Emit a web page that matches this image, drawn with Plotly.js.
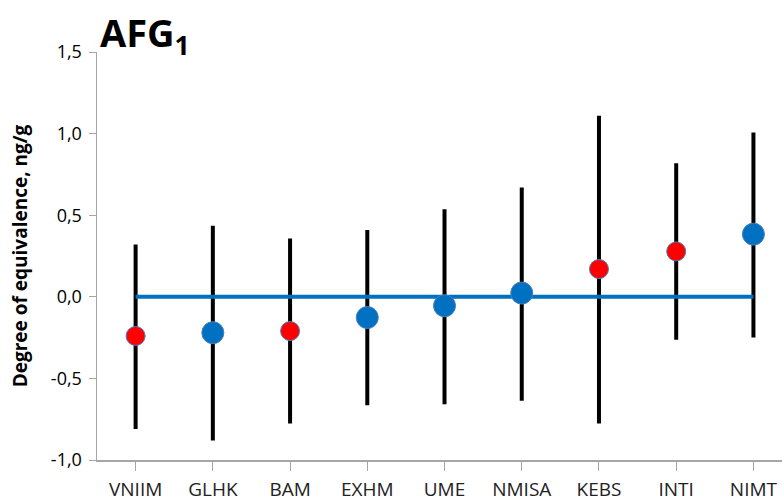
<!DOCTYPE html>
<html><head><meta charset="utf-8">
<script src="https://cdn.plot.ly/plotly-3.0.1.min.js"></script>
<style>html,body{margin:0;padding:0;background:#fff}#c{width:782px;height:504px}</style>
</head><body><div id="c"></div>
<script>
const labs = ["VNIIM","GLHK","BAM","EXHM","UME","NMISA","KEBS","INTI","NIMT"];
const dVals = [-0.24,-0.22,-0.21,-0.127,-0.055,0.023,0.17,0.278,0.384];
const upper = [0.32,0.435,0.357,0.41,0.537,0.67,1.109,0.819,1.007];
const lower = [-0.81,-0.88,-0.776,-0.664,-0.658,-0.637,-0.776,-0.263,-0.249];
const isRed = [true,false,true,false,false,false,true,true,false];
const refLine = [0,0,0,0,0,0,0,0,0];
const yTicks = [-1,-0.5,0,0.5,1,1.5];
const yTickText = ['-1,0','-0,5','0,0','0,5','1,0','1,5'];

const xs = labs.map((_,i)=>i);
const plus = dVals.map((v,i)=>upper[i]-v);
const minus = dVals.map((v,i)=>v-lower[i]);
const FONT = '"Open Sans", "Liberation Sans", sans-serif';

const traces = [
 {x:xs,y:dVals,type:'scatter',mode:'markers',marker:{size:1,color:'rgba(0,0,0,0)'},
  error_y:{type:'data',symmetric:false,array:plus,arrayminus:minus,color:'#000',thickness:4,width:0},
  hoverinfo:'skip',showlegend:false},
 {x:xs,y:refLine,type:'scatter',mode:'lines',line:{color:'#0070C0',width:4},showlegend:false},
 {x:xs,y:dVals,type:'scatter',mode:'markers',showlegend:false,
  marker:{size:isRed.map(r=>r?19:22),color:isRed.map(r=>r?'#FF0000':'#0070C0'),opacity:1,
   line:{color:'#4a7ebb',width:1}}}
];
const layout = {
 width:782,height:504,
 margin:{l:97,r:0,t:52,b:44},
 paper_bgcolor:'#fff',plot_bgcolor:'#fff',
 separators:', ',
 font:{family:FONT,color:'#000'},
 title:{text:'<b>AFG<sub>1</sub></b>',x:100/782,xanchor:'left',y:1-34/504,yanchor:'middle',
   font:{size:38,family:FONT,color:'#000'}},
 xaxis:{range:[-0.5,8.37],tickmode:'array',tickvals:xs,ticktext:labs,
   showgrid:false,zeroline:false,showline:true,linecolor:'#a6a6a6',linewidth:1.5,
   ticks:'outside',tickson:'boundaries',ticklen:9,tickcolor:'#a6a6a6',
   tickfont:{size:19,color:'#222'},ticklabelstandoff:3,ticklabeloverflow:'allow'},
 yaxis:{range:[-1,1.5],tickmode:'array',tickvals:yTicks,ticktext:yTickText,
   showgrid:false,zeroline:false,showline:true,linecolor:'#a6a6a6',linewidth:1.5,
   ticks:'outside',ticklen:7,tickcolor:'#a6a6a6',tickfont:{size:18,color:'#000'},
   ticklabelstandoff:3,
   title:{text:'<b>Degree of equivalence, ng/g</b>',font:{size:19,color:'#000'},standoff:18}}
};
Plotly.newPlot('c',traces,layout,{displayModeBar:false,staticPlot:true});
</script></body></html>
